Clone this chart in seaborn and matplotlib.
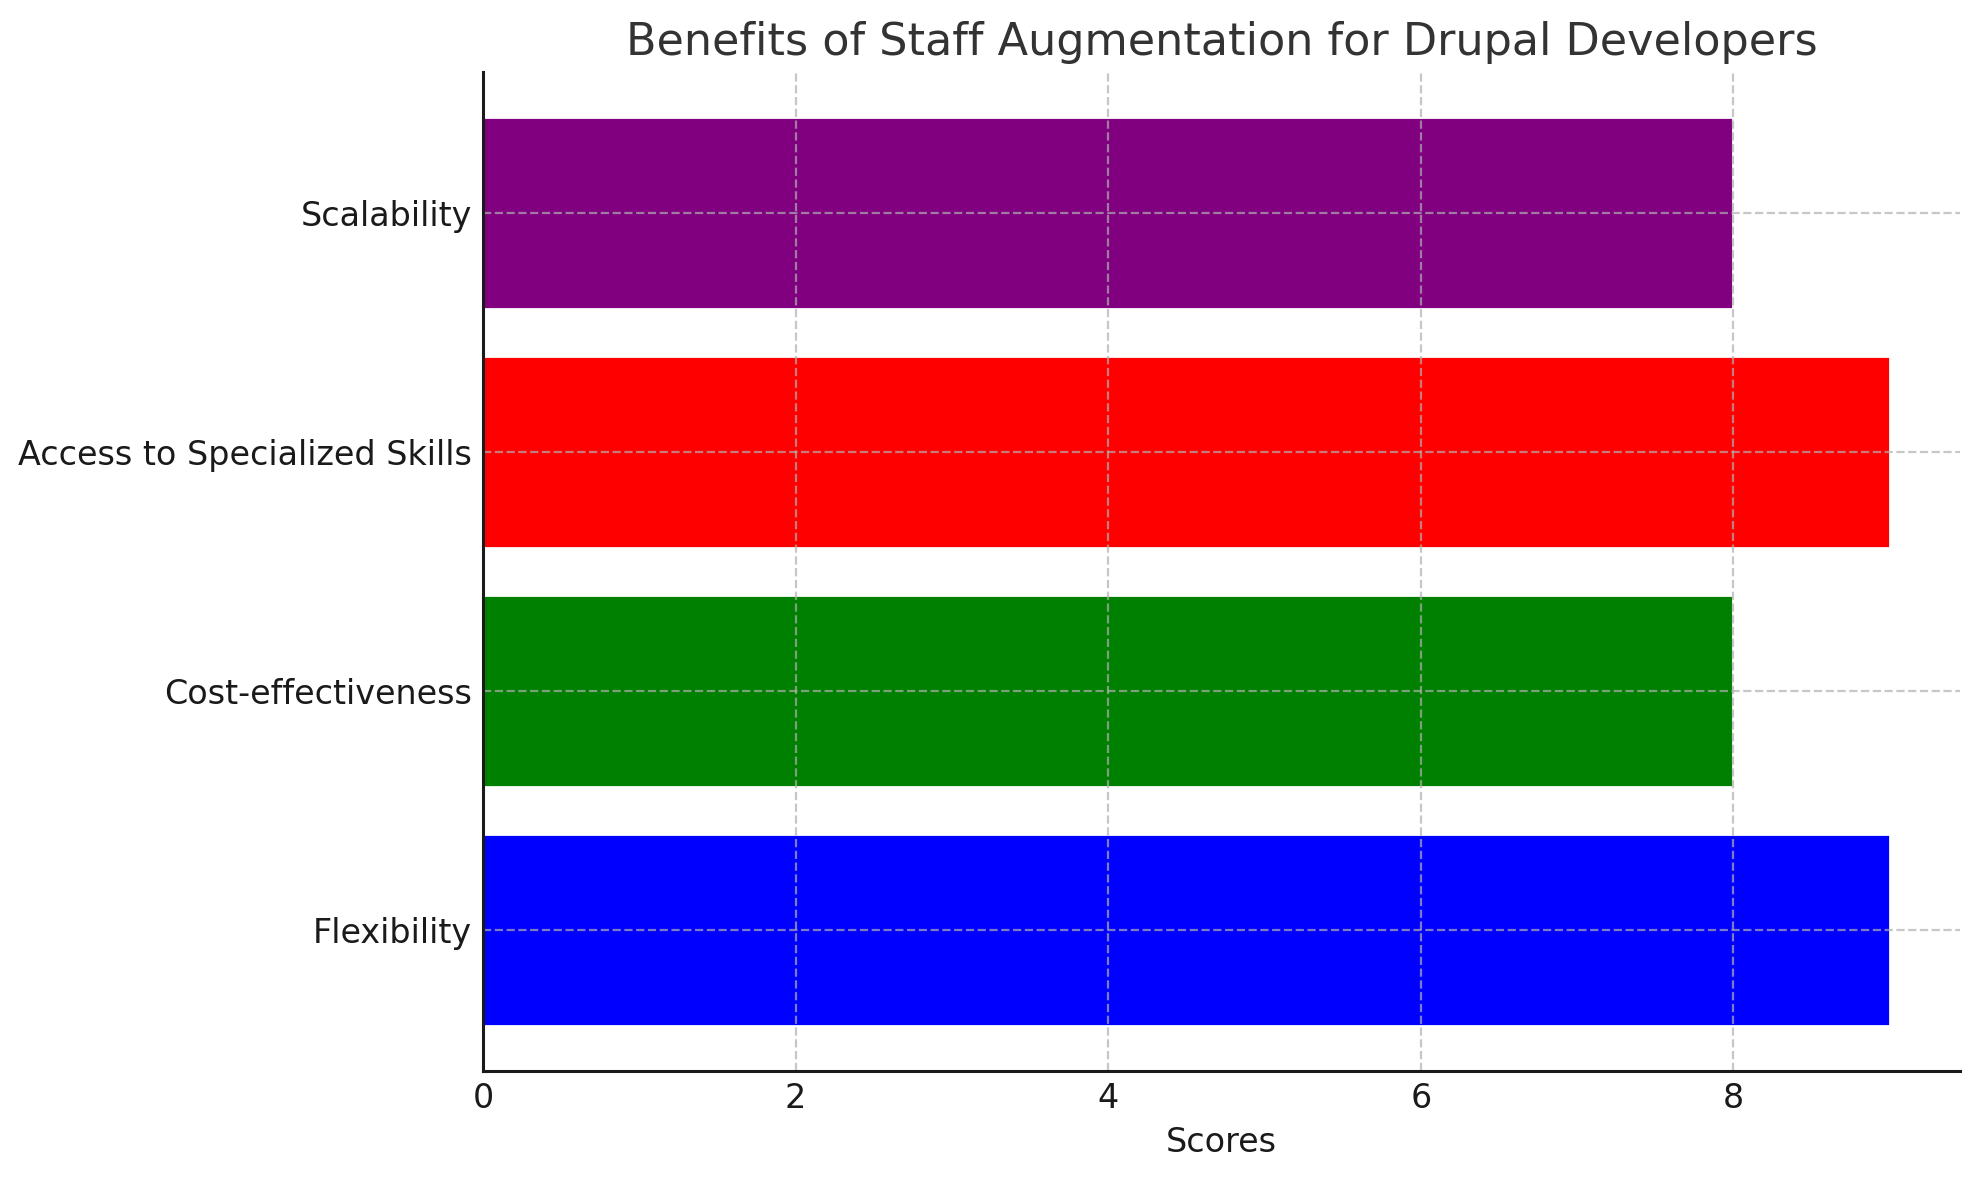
import matplotlib
matplotlib.use("Agg")
import matplotlib.pyplot as plt
import seaborn as sns
import pandas as pd

categories = ["Scalability", "Access to Specialized Skills", "Cost-effectiveness", "Flexibility"]
scores = [8, 9, 8, 9]
bar_colors = ["purple", "red", "green", "blue"]

sns.set_style("white")
plt.rcParams["font.family"] = ["DejaVu Sans"]

df = pd.DataFrame({"Benefit": categories, "Score": scores})

fig = plt.figure(figsize=(1979 / 200, 1180 / 200), dpi=200)
ax = fig.add_axes([483 / 1979, 1 - 1071 / 1180, (1960 - 483) / 1979, (1071 - 72) / 1180])

sns.barplot(data=df, x="Score", y="Benefit", hue="Benefit", order=categories,
            palette=dict(zip(categories, bar_colors)), orient="h", width=0.8,
            saturation=1, legend=False, ax=ax)

n = len(categories)
ax.set_xlim(0, max(scores) * 1.05)
ax.set_ylim(n - 1 + 0.4 + 0.19, -0.4 - 0.19)

ax.grid(True, linestyle="--", color="#b0b0b0", alpha=0.7, linewidth=0.8)
ax.set_axisbelow("line")

for side in ["top", "right"]:
    ax.spines[side].set_visible(False)
for side in ["left", "bottom"]:
    ax.spines[side].set_color("#1a1a1a")
    ax.spines[side].set_linewidth(1.1)
    ax.spines[side].set_zorder(5)

ax.tick_params(axis="both", direction="in", length=3, width=0.8, color="#1a1a1a",
               labelsize=12, labelcolor="#1a1a1a", pad=4)
ax.set_ylabel("")
ax.set_xlabel("Scores", fontsize=12, color="#1a1a1a")
ax.set_title("Benefits of Staff Augmentation for Drupal Developers", fontsize=16, color="#333333")

fig.savefig("out.png", dpi=200)
